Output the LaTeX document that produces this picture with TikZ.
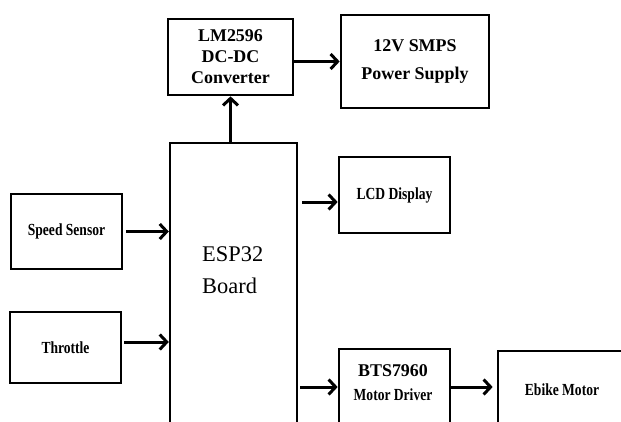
\documentclass[tikz,border=0pt]{standalone}
\usepackage{fontspec}
\setmainfont{Liberation Serif}
\newfontfamily\slimserif[FakeStretch=0.8]{Liberation Serif}
\usetikzlibrary{arrows.meta}

\tikzset{
  blockbox/.style={draw,line width=2.7bp,inner sep=0pt,align=center},
  link/.style={line width=3bp,-{Straight Barb[length=7bp,width=15bp]}},
  headtext/.style={font=\fontsize{18}{21}\selectfont\bfseries},
  slimtext/.style={font=\slimserif\fontsize{17}{24}\selectfont\bfseries},
}

\begin{document}
\begin{tikzpicture}[x=1bp,y=1bp]
  \useasboundingbox (0,0) rectangle (621,421);
  \clip (0,0) rectangle (621,421);

  \node[blockbox,headtext,minimum width=125bp,minimum height=76bp] (conv) at (230.5,364) {LM2596\\DC-DC\\Converter};
  \node[blockbox,font=\fontsize{18}{28}\selectfont\bfseries,minimum width=148bp,minimum height=93bp] (smps) at (415,359.5) {12V SMPS\\Power Supply};
  \node[blockbox,line width=2.4bp,minimum width=127bp,minimum height=297bp] (esp) at (233.5,129.5) {};
  \node[anchor=west,align=left,inner sep=0pt,font=\fontsize{22.5}{32}\selectfont] (espname) at (202,151) {ESP32\\Board};
  \node[blockbox,slimtext,minimum width=111bp,minimum height=75bp] (speed) at (66.5,189.5) {Speed Sensor};
  \node[blockbox,slimtext,minimum width=111bp,minimum height=71bp] (throttle) at (65.5,73.5) {Throttle};
  \node[blockbox,slimtext,minimum width=111bp,minimum height=76bp] (lcd) at (394.5,226) {LCD Display};
  \node[blockbox,minimum width=111bp,minimum height=91bp] (driver) at (394.5,26.5) {};
  \node[align=center,inner sep=0pt,slimtext] (drivername) at (393,38) {{\fontsize{18}{24}\selectfont\normalfont\bfseries BTS7960}\\Motor Driver};
  \node[blockbox,minimum width=142bp,minimum height=89bp] (motor) at (569,25.5) {};
  \node[inner sep=0pt,slimtext] (motorname) at (562,31) {Ebike Motor};

  \coordinate (throttleout) at ([yshift=5.5bp]throttle.east);
  \coordinate (lcdin) at ([yshift=-7bp]lcd.west);
  \coordinate (driverin) at ([yshift=7.5bp]driver.west);
  \coordinate (driverout) at ([yshift=7.5bp]driver.east);

  \draw[link] (conv.south |- esp.north) -- (conv.south);
  \draw[link] (smps.west -| conv.east) -- (smps.west);
  \draw[link,shorten <=3bp] (speed.east) -- (speed.east -| esp.west);
  \draw[link,shorten <=2bp] (throttleout) -- (throttleout -| esp.west);
  \draw[link,shorten <=4bp] (lcdin -| esp.east) -- (lcdin);
  \draw[link,shorten <=2bp] (driverin -| esp.east) -- (driverin);
  \draw[link,shorten >=4bp] (driverout) -- (driverout -| motor.west);
\end{tikzpicture}
\end{document}
